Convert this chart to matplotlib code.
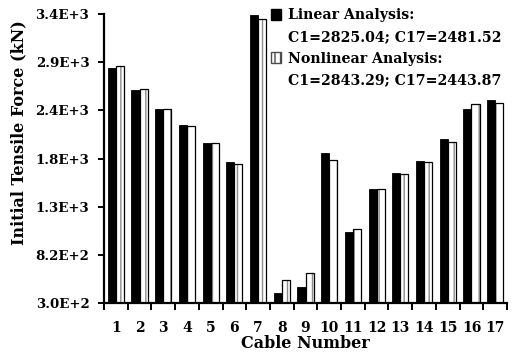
import numpy as np
import matplotlib
matplotlib.use("Agg")
import matplotlib.pyplot as plt
from matplotlib.patches import Rectangle
from matplotlib.ticker import FixedLocator, FuncFormatter

# Initial tensile force per stay cable (kN)
cables = list(range(1, 18))
linear = [2825.04, 2590, 2380, 2205, 2020, 1813, 3390, 410, 472,
          1906, 1065, 1519, 1698, 1820, 2056, 2381, 2481.52]
nonlinear = [2843.29, 2600, 2378, 2195, 2013, 1795, 3343, 543, 625,
             1834, 1094, 1525, 1684, 1813, 2024, 2435, 2443.87]
y_min, y_max = 300, 3400
y_ticks = np.linspace(y_min, y_max, 7)

legend_lines = ["Linear Analysis:",
                "C1=2825.04; C17=2481.52",
                "Nonlinear Analysis:",
                "C1=2843.29; C17=2443.87"]

FONT = "DejaVu Serif"
plt.rcParams["font.family"] = FONT
plt.rcParams["font.weight"] = "bold"
plt.rcParams["hatch.linewidth"] = 1.0

fig = plt.figure(figsize=(5.13, 3.62), dpi=100)
ax = fig.add_axes([104 / 513, 59 / 362, 403 / 513, 289 / 362])

x = np.arange(1, len(cables) + 1)
w = 0.34
ax.bar(x - w / 2, linear, width=w, color="black", edgecolor="black",
       linewidth=0.6, bottom=0)
ax.bar(x + w / 2, nonlinear, width=w, color="white", edgecolor="0.55",
       hatch="||", linewidth=0)
ax.bar(x + w / 2, nonlinear, width=w, fill=False, edgecolor="black",
       linewidth=0.9)

ax.set_xlim(0.5, len(cables) + 0.5)
ax.set_ylim(y_min, y_max)

for s in ("top", "right"):
    ax.spines[s].set_visible(False)
for s in ("left", "bottom"):
    ax.spines[s].set_linewidth(1.6)
    ax.spines[s].set_color("black")

# y axis ticks
ax.yaxis.set_major_locator(FixedLocator(y_ticks))
ax.yaxis.set_major_formatter(
    FuncFormatter(lambda v, p: "{:.1E}".format(v).replace("E+0", "E+")))
ax.tick_params(axis="y", direction="out", length=4.5, width=1.4, pad=6,
               labelsize=9.6)

# x axis: tick marks at group boundaries, labels at group centres
ax.set_xticks(x)
ax.set_xticklabels([str(c) for c in cables])
ax.set_xticks(np.arange(0.5, len(cables) + 1.0, 1.0), minor=True)
ax.tick_params(axis="x", which="major", length=0, pad=13, labelsize=10)
ax.tick_params(axis="x", which="minor", direction="out", length=5, width=1.4)

for lbl in ax.get_xticklabels() + ax.get_yticklabels():
    lbl.set_fontweight("bold")

ax.set_xlabel("Cable Number", fontsize=11.5, fontweight="bold", labelpad=0)
ax.set_ylabel("Initial Tensile Force (kN)", fontsize=11.5, fontweight="bold")
ax.yaxis.set_label_coords(-0.191, 0.588)

# legend: two entries, each with a second descriptive line
h_lin = Rectangle((0, 0), 1, 1, facecolor="black", edgecolor="black")
h_non = Rectangle((0, 0), 1, 1, facecolor="white", edgecolor="0.3",
                  hatch="|||", linewidth=1.0)
h_none = Rectangle((0, 0), 1, 1, fill=False, edgecolor="none")
leg = ax.legend([h_lin, h_none, h_non, h_none], legend_lines,
                loc="upper left", bbox_to_anchor=(0.414, 1.02),
                frameon=False, borderpad=0,
                borderaxespad=0, handlelength=0.75, handleheight=0.8,
                handletextpad=0.45, labelspacing=0.55,
                prop={"family": FONT, "weight": "bold", "size": 10.2})

fig.savefig("out.png", dpi=100)
